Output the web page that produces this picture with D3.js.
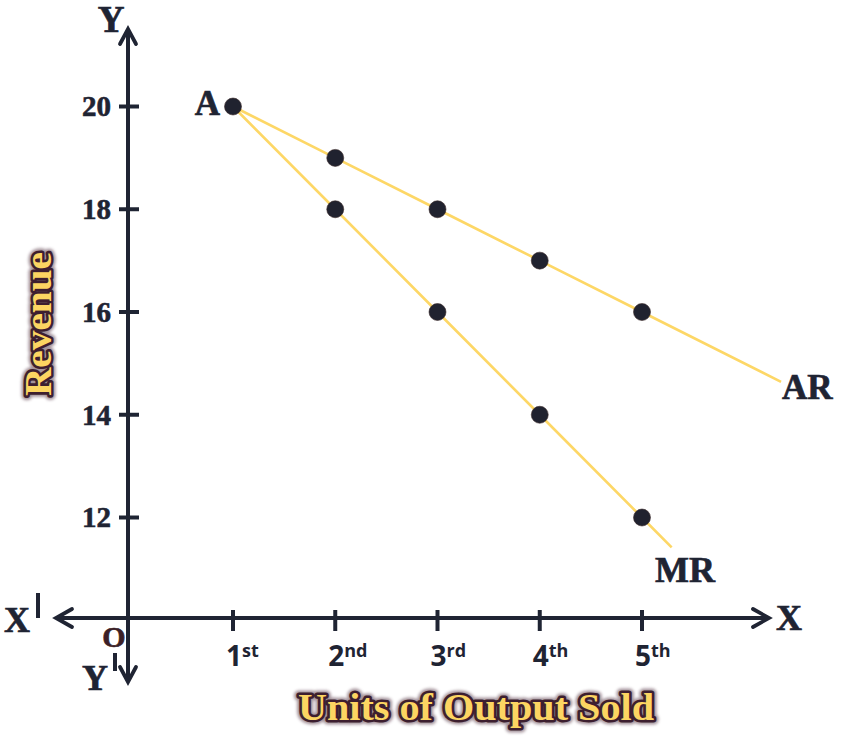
<!DOCTYPE html>
<html>
<head>
<meta charset="utf-8">
<script src="https://cdn.jsdelivr.net/npm/d3@7"></script>
<style>
  html, body { margin: 0; padding: 0; background: #ffffff; }
  svg { display: block; }
</style>
</head>
<body>
<svg id="chart" width="857" height="743"></svg>
<script>
// ---------------- data ----------------
const units      = [1, 2, 3, 4, 5];
const tickNums   = ["1", "2", "3", "4", "5"];
const tickSups   = ["st", "nd", "rd", "th", "th"];
const arValues   = [20, 19, 18, 17, 16];
const mrValues   = [20, 18, 16, 14, 12];
const arLineEnd  = [6.36, 14.64];   // where the AR line stops (units, revenue)
const mrLineEnd  = [5.29, 11.42];   // where the MR line stops
const yTicks     = [12, 14, 16, 18, 20];
const xTitle     = "Units of Output Sold";
const yTitle     = "Revenue";

// ---------------- layout ----------------
const W = 857, H = 743;
const ox = 128, oy = 618;            // origin O
const axisColor = "#1f2433";
const lineColor = "#fdd766";
const dotColor  = "#20222f";
const serif = "'Liberation Serif', 'Times New Roman', serif";
const sans  = "'Open Sans', 'Noto Sans', sans-serif";

const svg = d3.select("#chart");

const x = d3.scaleLinear().domain([1, 5]).range([233, 642]);
const y = d3.scaleLinear().domain([12, 20]).range([517.5, 106.5]);

// ---------------- axes ----------------
const gAx = svg.append("g")
  .attr("stroke", axisColor).attr("stroke-width", 4)
  .attr("fill", "none").attr("stroke-linecap", "butt");

gAx.append("line").attr("x1", ox).attr("x2", ox).attr("y1", 29).attr("y2", 681);
gAx.append("line").attr("x1", 56).attr("x2", 769).attr("y1", oy).attr("y2", oy);

const arrow = (pts) => gAx.append("polyline")
  .attr("points", pts.map(p => p.join(",")).join(" "))
  .attr("stroke-linejoin", "miter").attr("stroke-linecap", "round").attr("stroke-width", 3.8);
arrow([[ox - 8, 44], [ox, 29], [ox + 8, 44]]);
arrow([[ox - 8, 667], [ox, 682], [ox + 8, 667]]);
arrow([[72, oy - 9], [56, oy], [72, oy + 9]]);
arrow([[753, oy - 9], [769, oy], [753, oy + 9]]);

// y ticks
const gy = svg.append("g");
gy.selectAll("line").data(yTicks).join("line")
  .attr("x1", ox - 9).attr("x2", ox + 11)
  .attr("y1", d => y(d)).attr("y2", d => y(d))
  .attr("stroke", axisColor).attr("stroke-width", 4);
gy.selectAll("text").data(yTicks).join("text")
  .attr("x", ox - 17).attr("y", d => y(d)).attr("dy", "0.34em")
  .attr("text-anchor", "end")
  .attr("font-family", serif).attr("font-weight", "bold").attr("font-size", 29)
  .attr("fill", axisColor).attr("stroke", axisColor).attr("stroke-width", 0.6)
  .text(d => d);

// x ticks
const gx = svg.append("g");
gx.selectAll("line").data(units).join("line")
  .attr("x1", d => x(d)).attr("x2", d => x(d))
  .attr("y1", oy - 8).attr("y2", oy + 13)
  .attr("stroke", axisColor).attr("stroke-width", 4);
const xl = gx.selectAll("text").data(units).join("text")
  .attr("x", d => x(d) - 7).attr("y", 666)
  .attr("font-family", sans).attr("font-weight", "bold")
  .attr("fill", axisColor);
xl.append("tspan").attr("font-size", 28).text((d, i) => tickNums[i]);
xl.append("tspan").attr("font-size", 18).attr("dy", -9).text((d, i) => tickSups[i]);

// ---------------- lines ----------------
const line = d3.line().x(d => x(d[0])).y(d => y(d[1]));
const arPts = units.map((u, i) => [u, arValues[i]]).concat([arLineEnd]);
const mrPts = units.map((u, i) => [u, mrValues[i]]).concat([mrLineEnd]);

svg.append("path").datum(arPts).attr("d", line)
  .attr("fill", "none").attr("stroke", lineColor).attr("stroke-width", 2.6);
svg.append("path").datum(mrPts).attr("d", line)
  .attr("fill", "none").attr("stroke", lineColor).attr("stroke-width", 2.6);

// dots
const dots = units.map((u, i) => [u, arValues[i]])
  .concat(units.slice(1).map((u, i) => [u, mrValues[i + 1]]));
svg.append("g").selectAll("circle").data(dots).join("circle")
  .attr("cx", d => x(d[0])).attr("cy", d => y(d[1])).attr("r", 8.5)
  .attr("fill", dotColor).attr("stroke", "#3a2a2a").attr("stroke-width", 0.6);

// ---------------- labels ----------------
const lab = (txt, px, py, size, anchor, color) => svg.append("text")
  .attr("x", px).attr("y", py)
  .attr("text-anchor", anchor || "start")
  .attr("font-family", serif).attr("font-weight", "bold")
  .attr("font-size", size).attr("fill", color || axisColor)
  .attr("stroke", color || axisColor).attr("stroke-width", 0.7)
  .text(txt);

lab("Y", 111, 32, 37, "middle");
lab("A", 220, 115, 35, "end");
lab("AR", 782, 399, 35);
lab("MR", 655, 582, 36);
lab("X", 776, 630, 36);
lab("O", 114, 647, 30, "middle", "#3b1f27");

const primed = (txt, px, py, bx, by1, by2) => {
  lab(txt, px, py, 36);
  svg.append("line").attr("x1", bx).attr("x2", bx).attr("y1", by1).attr("y2", by2)
    .attr("stroke", axisColor).attr("stroke-width", 4);
};
primed("X", 4, 632, 38, 593, 618);
primed("Y", 82, 690, 115, 653, 671);

// ---------------- axis titles (yellow with dark outline + glow) ----------------
const defs = svg.append("defs");
defs.append("filter").attr("id", "glow").attr("x", "-10%").attr("y", "-30%")
  .attr("width", "120%").attr("height", "160%")
  .append("feGaussianBlur").attr("stdDeviation", 1.8);

const title = (txt, px, py, rot, len) => {
  const g = svg.append("g").attr("transform", `translate(${px},${py}) rotate(${rot})`);
  const common = s => s.attr("text-anchor", "middle")
    .attr("font-family", serif).attr("font-weight", "bold").attr("font-size", 37)
    .attr("textLength", len).attr("lengthAdjust", "spacingAndGlyphs")
    .text(txt);
  common(g.append("text")).attr("fill", "#5a3a4a").attr("stroke", "#5a3a4a")
    .attr("stroke-width", 9).attr("stroke-linejoin", "round")
    .attr("opacity", 0.55).attr("filter", "url(#glow)");
  common(g.append("text")).attr("fill", "#fcd562").attr("stroke", "#3d1f30")
    .attr("stroke-width", 5).attr("stroke-linejoin", "round")
    .attr("paint-order", "stroke");
};
title(xTitle, 476, 720, 0, 356);
title(yTitle, 51, 324, -90, 144);
</script>
</body>
</html>
